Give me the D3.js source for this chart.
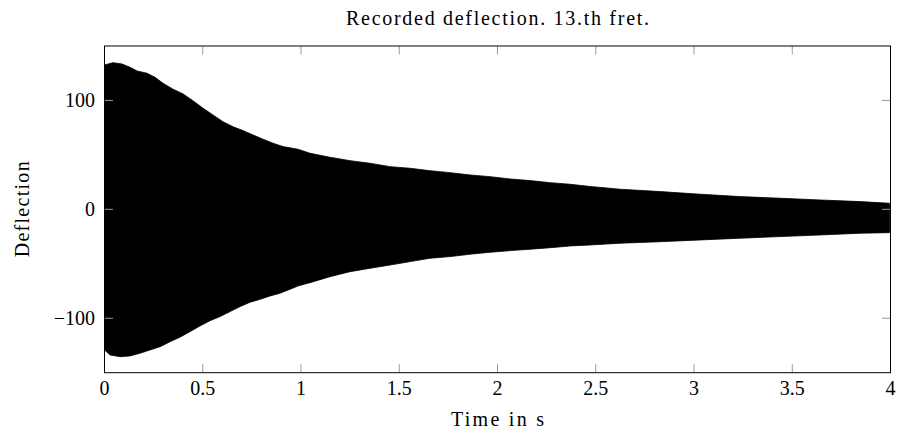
<!DOCTYPE html>
<html>
<head>
<meta charset="utf-8">
<script src="https://cdn.jsdelivr.net/npm/d3@7"></script>
<style>
  html, body { margin: 0; padding: 0; background: #fff; }
  text { font-family: "Liberation Serif", "DejaVu Serif", serif; fill: #000; }
</style>
</head>
<body>
<svg id="chart" width="899" height="437"></svg>
<script>
// Upper envelope of the recorded deflection (time in s, value)
const upperTime = [0, 0.043, 0.089, 0.13, 0.166, 0.216, 0.257, 0.298, 0.349, 0.4, 0.45, 0.502, 0.552, 0.603, 0.654, 0.705, 0.756, 0.807, 0.858, 0.909, 0.985, 1.046, 1.148, 1.25, 1.352, 1.454, 1.556, 1.657, 1.759, 1.861, 1.963, 2.065, 2.167, 2.269, 2.371, 2.472, 2.625, 2.829, 3.033, 3.236, 3.44, 3.644, 3.848, 3.995];
const upperValue = [132.6, 134.7, 133.5, 130.5, 127.1, 125.0, 121.3, 115.8, 110.3, 106.0, 99.8, 92.8, 86.7, 80.5, 75.9, 72.3, 68.3, 64.4, 60.7, 57.6, 55.2, 51.5, 47.8, 44.7, 42.3, 39.2, 37.7, 35.5, 33.7, 31.6, 30.0, 27.9, 26.4, 24.5, 23.0, 21.0, 18.5, 16.3, 13.9, 11.7, 10.2, 8.6, 7.1, 5.6];
// Lower envelope
const lowerTime = [0, 0.028, 0.079, 0.13, 0.181, 0.232, 0.283, 0.334, 0.384, 0.435, 0.486, 0.537, 0.588, 0.639, 0.69, 0.741, 0.792, 0.843, 0.894, 0.944, 0.985, 1.046, 1.148, 1.25, 1.352, 1.454, 1.556, 1.657, 1.759, 1.861, 1.963, 2.065, 2.167, 2.269, 2.371, 2.472, 2.625, 2.829, 3.033, 3.236, 3.44, 3.644, 3.848, 3.995];
const lowerValue = [-129.1, -133.7, -135.3, -134.6, -132.1, -129.1, -126.1, -121.5, -117.4, -112.3, -107.1, -102.2, -98.5, -93.9, -89.3, -85.3, -82.6, -79.5, -77.0, -73.4, -70.3, -67.3, -61.8, -57.2, -54.1, -51.1, -48.0, -44.9, -43.4, -41.2, -39.4, -37.9, -36.6, -35.2, -33.6, -32.7, -31.1, -29.7, -28.1, -26.5, -25.0, -23.5, -21.9, -21.4];

const xTicks = [0, 0.5, 1, 1.5, 2, 2.5, 3, 3.5, 4];
const xTickLabels = ["0", "0.5", "1", "1.5", "2", "2.5", "3", "3.5", "4"];
const yTicks = [-100, 0, 100];
const yTickLabels = ["\u2212100", "0", "100"];
const title = "Recorded deflection. 13.th fret.";
const xLabel = "Time in s";
const yLabel = "Deflection";

(function () {
const svg = d3.select("#chart");
const left = 104.5, plotTop = 46, width = 786, height = 326.7;
const x = d3.scaleLinear().domain([0, 4]).range([left, left + width]);
const y = d3.scaleLinear().domain([-150, 150]).range([plotTop + height, plotTop]);

const upperPts = upperTime.map((t, i) => [t, upperValue[i]]);
const lowerPts = lowerTime.map((t, i) => [t, lowerValue[i]]).reverse();
const poly = upperPts.concat(lowerPts);
const line = d3.line().x(d => x(d[0])).y(d => y(d[1]));

svg.append("clipPath").attr("id", "clip")
  .append("rect").attr("x", left).attr("y", plotTop).attr("width", width).attr("height", height);

svg.append("path")
  .attr("d", line(poly) + "Z")
  .attr("fill", "#000")
  .attr("stroke", "#000")
  .attr("stroke-width", 0.8)
  .attr("clip-path", "url(#clip)");

const tickLen = 8.5;
const tg = svg.append("g").attr("stroke", "#9a9a9a").attr("stroke-width", 1);
xTicks.forEach(t => {
  tg.append("line").attr("x1", x(t)).attr("x2", x(t)).attr("y1", plotTop + height).attr("y2", plotTop + height - tickLen);
  tg.append("line").attr("x1", x(t)).attr("x2", x(t)).attr("y1", plotTop).attr("y2", plotTop + tickLen);
});
yTicks.forEach(v => {
  tg.append("line").attr("x1", left).attr("x2", left + tickLen).attr("y1", y(v)).attr("y2", y(v));
  tg.append("line").attr("x1", left + width).attr("x2", left + width - tickLen).attr("y1", y(v)).attr("y2", y(v));
});

svg.append("rect").attr("x", left).attr("y", plotTop).attr("width", width).attr("height", height)
  .attr("fill", "none").attr("stroke", "#000").attr("stroke-width", 1);

const fs = 20;
xTicks.forEach((t, i) => {
  svg.append("text").attr("x", x(t)).attr("y", 395).attr("text-anchor", "middle")
    .attr("font-size", fs).text(xTickLabels[i]);
});
yTicks.forEach((v, i) => {
  svg.append("text").attr("x", 95).attr("y", y(v) + 6.5).attr("text-anchor", "end")
    .attr("font-size", fs).text(yTickLabels[i]);
});

svg.append("text").attr("x", left + width / 2).attr("y", 25).attr("text-anchor", "middle")
  .attr("font-size", fs).attr("textLength", 303).attr("lengthAdjust", "spacing").text(title);
svg.append("text").attr("x", left + width / 2).attr("y", 426).attr("text-anchor", "middle")
  .attr("font-size", fs).attr("textLength", 93).attr("lengthAdjust", "spacing").text(xLabel);
svg.append("text").attr("transform", `translate(29, ${plotTop + height / 2}) rotate(-90)`)
  .attr("text-anchor", "middle").attr("font-size", fs)
  .attr("textLength", 96).attr("lengthAdjust", "spacing").text(yLabel);
})();
</script>
</body>
</html>
